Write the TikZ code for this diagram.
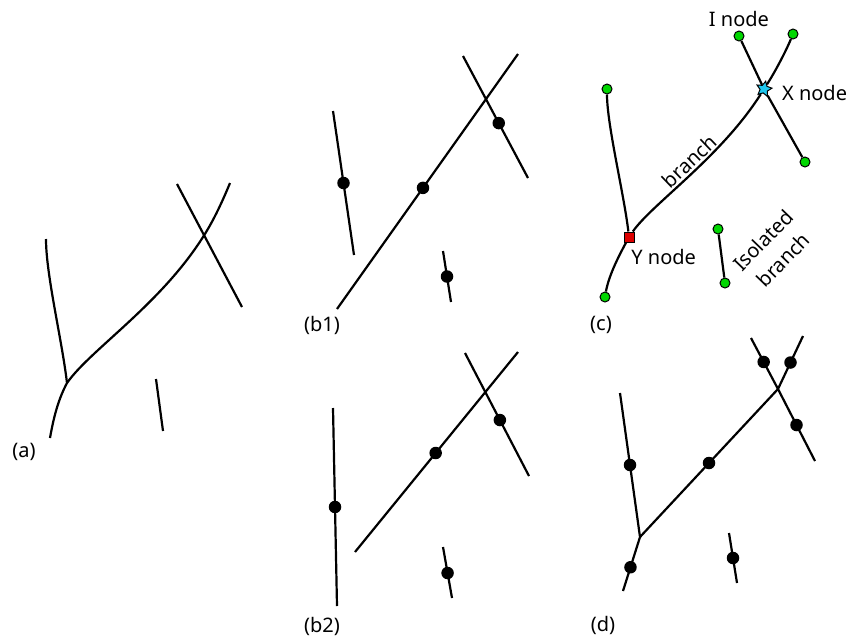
\documentclass[tikz,border=0pt]{standalone}
\usepackage{fontspec}
\setmainfont{Noto Sans}
\usetikzlibrary{shapes.geometric,positioning}
\definecolor{inodecol}{RGB}{0,215,0}
\definecolor{ynodecol}{RGB}{220,0,0}
\definecolor{xnodecol}{RGB}{30,200,240}
\begin{document}
\begin{tikzpicture}[x=1pt,y=-1pt,line width=2.2pt,
  every node/.style={font=\fontsize{20}{28}\selectfont},
  dot/.style={circle,fill=black,inner sep=0pt,minimum size=12.5pt},
  inode/.style={circle,draw,line width=1pt,fill=inodecol,inner sep=0pt,minimum size=10pt},
  ynode/.style={rectangle,draw,line width=1pt,fill=ynodecol,inner sep=0pt,minimum size=10pt},
  xnode/.style={star,star points=5,star point ratio=2,draw,line width=1pt,fill=xnodecol,inner sep=0pt,minimum size=16pt,rotate=-12}]
\useasboundingbox (0,0) rectangle (860,638);
% (a) raw skeleton
\draw (46,239) .. controls +(0,36) and +(-5,-43) .. (67,383);
\draw (50,438) .. controls +(4,-23) and +(-8,15) .. (67,383) .. controls +(23,-33) and +(-43,68) .. (203,237) .. controls +(11,-17) and +(-7,17) .. (230,183);
\draw (177,184) -- (242,307);
\draw (156,379) -- (163,431);
\node (la) at (24,452) {(a)};
% (b1)
\draw (333,111) -- node[dot]{} (354,255);
\draw (337,309) -- node[dot,pos=.475]{} (518,54);
\draw (463,56) -- node[dot,pos=.55]{} (528,178);
\draw (443,251) -- node[dot]{} (451,302);
\node (lb1) at (322,325) {(b1)};
% (b2)
\draw (333,408) -- node[dot]{} (337,606);
\draw (355,552) -- node[dot,pos=.495]{} (518,352);
\draw (465,353) -- node[dot,pos=.545]{} (529,476);
\draw (443,547) -- node[dot,pos=.51]{} (452,598);
\node (lb2) at (322,626) {(b2)};
% (c) nodes and branches
\node[inode] (cL) at (607,89) {};
\node[ynode] (cY) at (629,237) {};
\node[inode] (cB) at (605,297) {};
\node[xnode] (cX) at (764,89) {};
\node[inode] (cT) at (793,34) {};
\node[inode] (cI) at (739,36) {};
\node[inode] (cC) at (805,162) {};
\node[inode] (cS) at (718,229) {};
\node[inode] (cR) at (725,283) {};
\draw (cL) .. controls +(0,36) and +(-5,-43) .. (cY);
\draw (cB) .. controls +(4,-23) and +(-8,15) .. (cY);
\draw (cY) .. controls +(23,-33) and +(-43,68) .. node[sloped,above,pos=.55,inner sep=2pt] (lbr) {branch} (cX);
\draw (cX) .. controls +(11,-17) and +(-7,17) .. (cT);
\draw (cI) -- (cX) -- (cC);
\draw (cS) -- (cR);
\node[above=-1pt of cI] (lI) {I node};
\node[right=8pt of cX,yshift=-3pt] (lX) {X node};
\node[anchor=west] (lY) at (627,257) {Y node};
\node[rotate=46,align=center] (lS) at (773,250) {Isolated\\branch};
\node (lc) at (601,325) {(c)};
% (d)
\coordinate (dL) at (620,393); \coordinate (dJ) at (640,537); \coordinate (dB) at (623,591);
\coordinate (dX) at (778,389); \coordinate (dT) at (803,336);
\coordinate (dC) at (751,338); \coordinate (dD) at (815,461);
\coordinate (dS) at (729,533); \coordinate (dR) at (737,583);
\draw (dL) -- node[dot]{} (dJ) -- node[dot,pos=.56]{} (dB);
\draw (dJ) -- node[dot]{} (dX) -- node[dot]{} (dT);
\draw (dC) -- node[dot,pos=.47]{} (dX) -- node[dot]{} (dD);
\draw (dS) -- node[dot]{} (dR);
\node (ld) at (603,625) {(d)};
\end{tikzpicture}
\end{document}
